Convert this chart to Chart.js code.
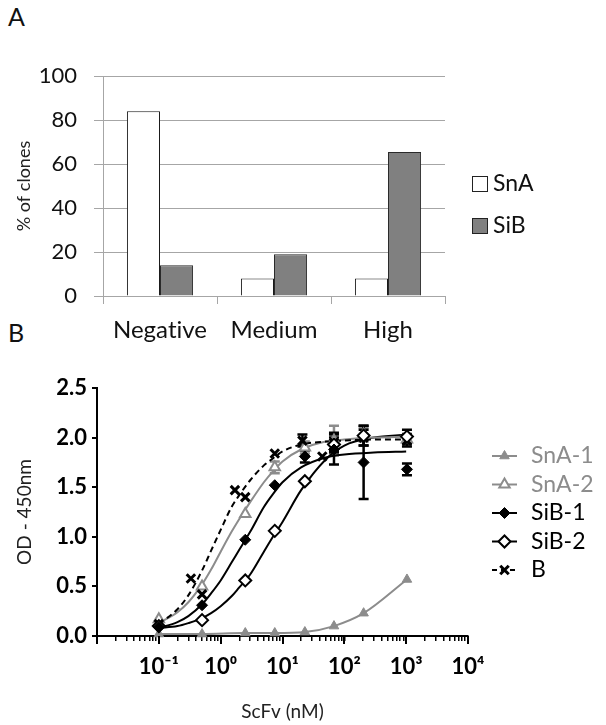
<!DOCTYPE html>
<html>
<head>
<meta charset="utf-8">
<script src="https://cdn.jsdelivr.net/npm/chart.js@4.4.1/dist/chart.umd.min.js"></script>
<style>
  html, body { margin: 0; padding: 0; background: #fff; }
  #wrap { position: relative; width: 606px; height: 725px; }
  .panel { position: absolute; left: 0; }
  .tag { position: absolute; font-family: Lato, sans-serif; font-size: 25px; line-height: 25px; color: #111; }
</style>
</head>
<body>
<div id="wrap">
  <div class="tag" style="left:8px; top:4px;">A</div>
  <div class="tag" style="left:8px; top:320px;">B</div>
  <canvas id="barChart" class="panel" style="top:0; width:606px; height:345px;" width="606" height="345"></canvas>
  <canvas id="curveChart" class="panel" style="top:345px; width:606px; height:380px;" width="606" height="380"></canvas>
</div>
<script>
// ---- panel A data
const categories = ['Negative', 'Medium', 'High'];
const snaPct = [84, 8, 8];
const sibPct = [14, 19, 65.5];
const pctTicks = [0, 20, 40, 60, 80, 100];

// ---- panel B data (concentrations in nM, OD at 450 nm)
const conc = [0.1, 0.5, 2.5, 7.5, 23, 68, 205, 1030];
const snA1 = [0.02, 0.02, 0.03, 0.03, 0.04, 0.10, 0.23, 0.57];
const snA1Err = [0.01, 0.01, 0.01, 0.01, 0.01, 0.01, 0.02, 0.02];
const snA2 = [0.17, 0.50, 1.23, 1.70, 1.90, 1.97, 2.03, 1.98];
const snA2Err = [0.02, 0.03, 0.04, 0.06, 0.06, 0.15, 0.07, 0.06];
const siB1 = [0.09, 0.31, 0.97, 1.52, 1.81, 1.88, 1.75, 1.68];
const siB1Err = [0.02, 0.02, 0.03, 0.03, 0.06, 0.15, 0.37, 0.06];
const siB2 = [0.10, 0.16, 0.56, 1.06, 1.56, 1.93, 2.02, 2.01];
const siB2Err = [0.02, 0.02, 0.03, 0.04, 0.05, 0.07, 0.10, 0.07];
const bConc = [0.1, 0.33, 0.5, 1.7, 2.5, 7.5, 21, 44, 68, 205, 1030];
const bOD = [0.12, 0.58, 0.42, 1.47, 1.40, 1.84, 1.97, 1.81, 1.95, 2.00, 1.97];
const bErr = [0.02, 0.03, 0.03, 0.04, 0.04, 0.04, 0.06, 0.04, 0.10, 0.08, 0.06];

// fitted curves
const fitConc = [0.1, 0.2, 0.3, 0.5, 0.7, 1, 1.5, 2, 3, 5, 7, 10, 20, 50, 100, 300, 1000];
const fitB    = [0.12, 0.27, 0.41, 0.66, 0.86, 1.07, 1.30, 1.42, 1.57, 1.72, 1.79, 1.86, 1.93, 1.96, 1.97, 1.98, 1.98];
const fitSnA2 = [0.13, 0.24, 0.34, 0.52, 0.67, 0.85, 1.05, 1.18, 1.35, 1.55, 1.66, 1.76, 1.88, 1.96, 1.98, 2.00, 2.01];
const fitSiB1 = [0.08, 0.14, 0.20, 0.32, 0.43, 0.56, 0.74, 0.87, 1.05, 1.30, 1.43, 1.55, 1.70, 1.80, 1.83, 1.85, 1.86];
const fitSiB2 = [0.08, 0.10, 0.13, 0.18, 0.23, 0.30, 0.40, 0.49, 0.62, 0.85, 1.00, 1.15, 1.47, 1.78, 1.92, 2.00, 2.03];

const odTicks = [0, 0.5, 1, 1.5, 2, 2.5];
const concDecades = [0.01, 0.1, 1, 10, 100, 1000, 10000];
const concTickLabels = ['', '10⁻¹', '10⁰', '10¹', '10²', '10³', '10⁴'];

const GRAY = '#8c8c8c';
const FONT = 'Lato, "Open Sans", sans-serif';

const pts = (xs, ys) => xs.map((x, i) => ({ x, y: ys[i] }));

// no "ti" ligatures in canvas text
const plainText = {
  id: 'plainText',
  beforeDraw(chart) {
    chart.ctx.textRendering = 'optimizeSpeed';
    chart.ctx.letterSpacing = '0.01px';
  }
};

// ---- panel A
const legendA = {
  id: 'legendA',
  afterDraw(chart) {
    const ctx = chart.ctx;
    ctx.save();
    ctx.font = '23px ' + FONT;
    ctx.textBaseline = 'middle';
    chart.data.datasets.forEach((ds, i) => {
      const y = 184 + i * 42;
      ctx.fillStyle = ds.backgroundColor;
      ctx.fillRect(472.5, y - 7.5, 15, 15);
      ctx.strokeStyle = '#222';
      ctx.lineWidth = 1;
      ctx.strokeRect(472.5, y - 7.5, 15, 15);
      ctx.fillStyle = '#111';
      ctx.fillText(ds.label, 493, y);
    });
    ctx.restore();
  }
};

new Chart(document.getElementById('barChart'), {
  type: 'bar',
  data: {
    labels: categories,
    datasets: [
      { label: 'SnA', data: snaPct, backgroundColor: '#ffffff', borderColor: '#1a1a1a', borderWidth: 1 },
      { label: 'SiB', data: sibPct, backgroundColor: '#808080', borderColor: '#2a2a2a', borderWidth: 1 }
    ]
  },
  options: {
    responsive: false,
    animation: false,
    devicePixelRatio: 1,
    layout: { padding: { top: 76, right: 161, left: 0, bottom: 0 } },
    datasets: { bar: { categoryPercentage: 0.58, barPercentage: 1 } },
    plugins: { legend: { display: false }, tooltip: { enabled: false } },
    scales: {
      x: {
        grid: { drawOnChartArea: false, offset: true, color: '#a6a6a6', tickLength: 8 },
        border: { color: '#a6a6a6' },
        ticks: { font: { family: FONT, size: 24 }, color: '#111', padding: 12 },
        afterFit: s => { s.height = 49; }
      },
      y: {
        min: 0, max: 100,
        afterBuildTicks: s => { s.ticks = pctTicks.map(v => ({ value: v })); },
        grid: { color: '#a6a6a6', tickLength: 9 },
        border: { color: '#a6a6a6' },
        ticks: { font: { family: FONT, size: 22 }, color: '#111', padding: 17 },
        title: { display: true, text: '% of clones', font: { family: FONT, size: 18 }, color: '#222', padding: { top: 13 } },
        afterFit: s => { s.width = 103; }
      }
    }
  },
  plugins: [plainText, legendA]
});

// ---- panel B
const errorBars = {
  id: 'errorBars',
  beforeDatasetsDraw(chart) {
    const { ctx, scales: { x, y } } = chart;
    chart.data.datasets.forEach(ds => {
      if (!ds.errors) return;
      ctx.save();
      ctx.strokeStyle = ds.borderColor;
      ctx.lineWidth = 2.5;
      ds.data.forEach((p, i) => {
        const e = ds.errors[i];
        const px = x.getPixelForValue(p.x);
        const top = y.getPixelForValue(p.y + e);
        const bot = y.getPixelForValue(p.y - e);
        if (bot - top < 11) return;
        ctx.beginPath();
        ctx.moveTo(px, top); ctx.lineTo(px, bot);
        ctx.moveTo(px - 5, top); ctx.lineTo(px + 5, top);
        ctx.moveTo(px - 5, bot); ctx.lineTo(px + 5, bot);
        ctx.stroke();
      });
      ctx.restore();
    });
  }
};

const decadeTicks = {
  id: 'decadeTicks',
  afterDraw(chart) {
    const { ctx, scales: { x } } = chart;
    ctx.save();
    ctx.strokeStyle = '#000';
    ctx.lineWidth = 2;
    concDecades.forEach(v => {
      const px = Math.round(x.getPixelForValue(v));
      ctx.beginPath();
      ctx.moveTo(px, x.top);
      ctx.lineTo(px, x.top + 8);
      ctx.stroke();
    });
    ctx.restore();
  }
};

const legendB = {
  id: 'legendB',
  afterDraw(chart) {
    const ctx = chart.ctx;
    const top = chart.canvas.offsetTop;
    ctx.save();
    ctx.font = '23px ' + FONT;
    ctx.textBaseline = 'middle';
    chart.data.datasets.filter(ds => ds.inLegend).forEach((ds, i) => {
      const y = 456 - top + i * 28.5;
      ctx.strokeStyle = ds.borderColor;
      ctx.lineWidth = 2;
      ctx.setLineDash(ds.legendDash || []);
      ctx.beginPath();
      ctx.moveTo(492, y); ctx.lineTo(517, y);
      ctx.stroke();
      ctx.setLineDash([]);
      ctx.fillStyle = ds.pointBackgroundColor;
      ctx.lineWidth = ds.pointBorderWidth;
      Chart.helpers.drawPoint(ctx, { pointStyle: ds.pointStyle, radius: ds.pointRadius, rotation: 0, borderWidth: ds.pointBorderWidth }, 504.5, y);
      ctx.fillStyle = ds.borderColor;
      ctx.fillText(ds.label, 531, y);
    });
    ctx.restore();
  }
};

const curve = (data, color, dash) => ({
  data, showLine: true, pointRadius: 0, borderColor: color, borderWidth: 2,
  borderDash: dash || [], cubicInterpolationMode: 'monotone', order: 2, clip: false
});

new Chart(document.getElementById('curveChart'), {
  type: 'scatter',
  data: {
    datasets: [
      { label: 'SnA-1', inLegend: true, data: pts(conc, snA1), errors: snA1Err, showLine: true,
        borderColor: GRAY, borderWidth: 2, cubicInterpolationMode: 'monotone',
        pointStyle: 'triangle', pointRadius: 5.5, pointBackgroundColor: GRAY, pointBorderColor: GRAY, pointBorderWidth: 1, order: 1, clip: false },
      { label: 'SnA-2', inLegend: true, data: pts(conc, snA2), errors: snA2Err,
        borderColor: GRAY, pointStyle: 'triangle', pointRadius: 6, pointBackgroundColor: '#fff', pointBorderColor: GRAY, pointBorderWidth: 2, order: 1, clip: false },
      { label: 'SiB-1', inLegend: true, data: pts(conc, siB1), errors: siB1Err,
        borderColor: '#000', pointStyle: 'rectRot', pointRadius: 5.5, pointBackgroundColor: '#000', pointBorderColor: '#000', pointBorderWidth: 1, order: 0, clip: false },
      { label: 'SiB-2', inLegend: true, data: pts(conc, siB2), errors: siB2Err,
        borderColor: '#000', pointStyle: 'rectRot', pointRadius: 6, pointBackgroundColor: '#fff', pointBorderColor: '#000', pointBorderWidth: 2, order: 0, clip: false },
      { label: 'B', inLegend: true, legendDash: [5, 4], data: pts(bConc, bOD), errors: bErr,
        borderColor: '#000', pointStyle: 'crossRot', pointRadius: 6, pointBackgroundColor: '#000', pointBorderColor: '#000', pointBorderWidth: 3, order: 0, clip: false },
      curve(pts(fitConc, fitB), '#000', [6, 4]),
      curve(pts(fitConc, fitSnA2), GRAY),
      curve(pts(fitConc, fitSiB1), '#000'),
      curve(pts(fitConc, fitSiB2), '#000')
    ]
  },
  options: {
    responsive: false,
    animation: false,
    devicePixelRatio: 1,
    layout: { padding: { top: 43, right: 138, left: 0, bottom: 0 } },
    plugins: { legend: { display: false }, tooltip: { enabled: false } },
    scales: {
      x: {
        type: 'logarithmic', min: 0.01, max: 10000,
        afterBuildTicks: s => {
          const t = [];
          concDecades.forEach((d, i) => {
            t.push({ value: d, major: true });
            if (i < concDecades.length - 1) [2, 3, 4, 5, 6, 7, 8, 9].forEach(m => t.push({ value: d * m }));
          });
          s.ticks = t;
        },
        grid: { drawOnChartArea: false, color: '#000', tickLength: 5, lineWidth: 1.5 },
        border: { color: '#000', width: 2 },
        ticks: {
          autoSkip: false, maxRotation: 0, padding: 13,
          font: { family: FONT, size: 22, weight: 'bold' }, color: '#000',
          callback: v => {
            const i = concDecades.findIndex(d => Math.abs(v - d) / d < 1e-6);
            return i >= 0 ? concTickLabels[i] : '';
          }
        },
        title: { display: true, text: 'ScFv (nM)', font: { family: FONT, size: 19 }, color: '#222', padding: { bottom: 2 } },
        afterFit: s => { s.height = 89; }
      },
      y: {
        min: 0, max: 2.5,
        afterBuildTicks: s => { s.ticks = odTicks.map(v => ({ value: v })); },
        grid: { drawOnChartArea: false, color: '#000', tickLength: 5, lineWidth: 2 },
        border: { color: '#000', width: 2 },
        ticks: { font: { family: FONT, size: 22, weight: 'bold' }, color: '#000', padding: 5, callback: v => v.toFixed(1) },
        title: { display: true, text: 'OD - 450nm', font: { family: FONT, size: 19 }, color: '#222', padding: { top: 13 } },
        afterFit: s => { s.width = 97; }
      }
    }
  },
  plugins: [plainText, errorBars, decadeTicks, legendB]
});
</script>
</body>
</html>
